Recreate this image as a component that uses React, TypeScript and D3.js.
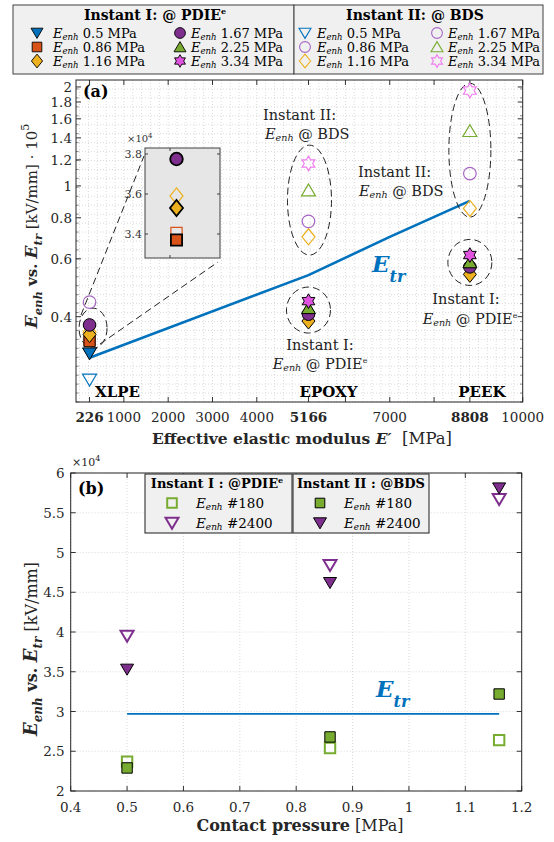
import React from 'react';
import * as d3 from 'd3';

// ---------------- panel (a): E_enh vs. E_tr over effective modulus ----------------
const modulus = [226, 5166, 8808];
const materialNames = ['XLPE', 'EPOXY', 'PEEK'];
const pressureLabels = ['0.5', '0.86', '1.16', '1.67', '2.25', '3.34'];

// Instant I @ PDIE^e (filled markers), x10^5 kV/mm, [XLPE, EPOXY, PEEK]
const inst1_p050 = [0.309, null, null];
const inst1_p086 = [0.337, null, null];
const inst1_p116 = [0.353, 0.388, 0.538];
const inst1_p167 = [0.3775, 0.407, 0.567];
const inst1_p225 = [null, 0.425, 0.586];
const inst1_p334 = [null, 0.446, 0.616];

// Instant II @ BDS (open markers)
const inst2_p050 = [0.257, null, null];
const inst2_p086 = [0.3405, null, null];
const inst2_p116 = [0.359, 0.70, 0.854];
const inst2_p167 = [0.443, 0.78, 1.09];
const inst2_p225 = [null, 0.97, 1.47];
const inst2_p334 = [null, 1.17, 1.95];

// E_tr curve
const etrModulus = [226, 5166, 7000, 8808];
const etrValues = [0.30, 0.535, 0.70, 0.90];

const xTicksA = [226, 1000, 2000, 3000, 4000, 5166, 6000, 7000, 8000, 8808, 10000];
const xTickLabelsA = ['226', '1000', '2000', '3000', '4000', '5166', '', '7000', '', '8808', '10000'];
const boldXTicks = [226, 5166, 8808];
const yTicksA = [0.4, 0.6, 0.8, 1, 1.2, 1.4, 1.6, 1.8, 2];
const insetTicks = [3.4, 3.6, 3.8];

// ---------------- panel (b): E_enh vs. contact pressure ----------------
const pressureB = [0.5, 0.86, 1.16];
const inst1_n180 = [2.37, 2.54, 2.64];
const inst1_n2400 = [3.95, 4.84, 5.67];
const inst2_n180 = [2.29, 2.68, 3.22];
const inst2_n2400 = [3.53, 4.62, 5.81];
const etrPressure = [0.5, 1.16];
const etrB = [2.97, 2.97];
const xTicksB = [0.4, 0.5, 0.6, 0.7, 0.8, 0.9, 1, 1.1, 1.2];
const yTicksB = [2, 2.5, 3, 3.5, 4, 4.5, 5, 5.5, 6];

const inst1 = [inst1_p050, inst1_p086, inst1_p116, inst1_p167, inst1_p225, inst1_p334];
const inst2 = [inst2_p050, inst2_p086, inst2_p116, inst2_p167, inst2_p225, inst2_p334];
const shapes = ['v', 's', 'd', 'o', '^', 'h'];
const fillColors = ['#0072BD', '#D95319', '#EDB120', '#7E2F8E', '#77AC30', '#E052E0'];
const openColors = ['#0072BD', '#D95319', '#EDB120', '#A766C4', '#77AC30', '#F07CF0'];
// the BDS legend shows a circle for 0.86 MPa
const legend2Shapes = ['v', 'o', 'd', 'o', '^', 'h'];
const legend2Colors = ['#0072BD', '#A766C4', '#EDB120', '#A766C4', '#77AC30', '#F07CF0'];

const FONT = "'DejaVu Serif', serif";
const BLUE = '#0072BD';

function markerPath(shape: string, r: number): string {
  if (shape === 'v') return `M${-r},${-0.8 * r}L${r},${-0.8 * r}L0,${0.9 * r}Z`;
  if (shape === '^') return `M${-r},${0.8 * r}L${r},${0.8 * r}L0,${-0.9 * r}Z`;
  if (shape === 's') { const a = 0.8 * r; return `M${-a},${-a}H${a}V${a}H${-a}Z`; }
  if (shape === 'd') return `M0,${-1.15 * r}L${0.93 * r},0L0,${1.15 * r}L${-0.93 * r},0Z`;
  if (shape === 'o') { const c = 0.9 * r; return `M${c},0A${c},${c} 0 1,1 ${-c},0A${c},${c} 0 1,1 ${c},0Z`; }
  // hexagram
  const R = 1.05 * r, ri = R / Math.sqrt(3);
  const pts = d3.range(12).map(i => {
    const a = -Math.PI / 2 + (i * Math.PI) / 6;
    const rad = i % 2 === 0 ? R : ri;
    return [rad * Math.cos(a), rad * Math.sin(a)];
  });
  return 'M' + pts.map(p => p.join(',')).join('L') + 'Z';
}

const Marker = ({ x, y, shape, r = 7, fill = 'none', stroke = '#000', sw = 1 }: any) => (
  <path d={markerPath(shape, r)} transform={`translate(${x},${y})`} fill={fill} stroke={stroke} strokeWidth={sw} />
);

const Enh = ({ size }: { size: number }) => (
  <>
    <tspan fontStyle="italic">E</tspan>
    <tspan fontStyle="italic" fontSize={size * 0.66} dy={size * 0.16}>enh</tspan>
    <tspan dy={-size * 0.16}>{'\u00a0'}</tspan>
  </>
);

export default function App() {
  // panel (a) scales
  const xA = d3.scaleLinear().domain([-80, 10000]).range([76, 522.7]);
  const yA = d3.scaleLog().domain([0.22, 2.1]).range([402, 80]);
  const [aL, aR] = xA.range();
  const [aB, aT] = yA.range();

  // inset
  const xI = d3.scaleLinear().domain([100, 400]).range([145, 220]);
  const yI = d3.scaleLinear().domain([3.28, 3.83]).range([258, 148]);

  // panel (b) scales
  const xB = d3.scaleLinear().domain([0.4, 1.2]).range([70.7, 521.7]);
  const yB = d3.scaleLinear().domain([2, 6]).range([791, 473]);
  const [bL, bR] = xB.range();
  const [bB, bT] = yB.range();

  const etrLine = d3.line<number>().x((_, i) => xA(etrModulus[i])).y(d => yA(d))(etrValues) || '';
  const etrLineB = d3.line<number>().x((_, i) => xB(etrPressure[i])).y(d => yB(d))(etrB) || '';

  // dense dotted minor grid in (a)
  const minorX = d3.range(0, 10001, 200);
  const lnLo = Math.log(0.22), lnHi = Math.log(2.1);
  const minorY = d3.range(lnLo, lnHi, (lnHi - lnLo) / 36).map(v => Math.exp(v));

  const grid = { stroke: '#d2d2d2', strokeWidth: 0.8, strokeDasharray: '1 2' };

  const ellipses = [
    { m: 226, v: 0.369, dx: 3.5, rx: 14, ry: 20 },
    { m: 5166, v: 0.419, dx: 0, rx: 22, ry: 23 },
    { m: 5166, v: 0.905, dx: 1, rx: 22, ry: 55 },
    { m: 8808, v: 1.284, dx: 0, rx: 21, ry: 67 },
    { m: 8808, v: 0.585, dx: 0, rx: 22, ry: 23 },
  ];

  const drawSeries = (data: (number | null)[][], filled: boolean, sx: any, sy: any, xs: number[]) =>
    data.map((series, si) =>
      series.map((v, mi) =>
        v == null ? null : (
          <Marker key={`${si}-${mi}`} x={sx(xs[mi])} y={sy(v)} shape={shapes[si]} r={7}
            fill={filled ? fillColors[si] : 'none'}
            stroke={filled ? '#000' : openColors[si]}
            sw={filled ? 1 : 1.2} />
        )
      )
    );

  return (
    <svg width={554} height={842} style={{ position: 'absolute', left: 0, top: 0, background: '#fff' }}
      fontFamily={FONT}>
      <defs>
        <clipPath id="clipA"><rect x={aL} y={aT} width={aR - aL} height={aB - aT} /></clipPath>
        <clipPath id="clipI"><rect x={145} y={148} width={75} height={110} /></clipPath>
      </defs>

      {/* ===== top legend (a) ===== */}
      <rect x={13} y={5} width={281} height={69} fill="#f0f0f0" stroke="#404040" strokeWidth={1} />
      <rect x={294} y={5} width={249} height={69} fill="#f0f0f0" stroke="#404040" strokeWidth={1} />
      <text x={155} y={20} textAnchor="middle" fontWeight="bold" fontSize={14}>
        Instant I: @ PDIE<tspan fontSize={8} dy={-6}>e</tspan>
      </text>
      <text x={415} y={20} textAnchor="middle" fontWeight="bold" fontSize={14}>Instant II: @ BDS</text>
      {pressureLabels.map((p, i) => {
        const col = Math.floor(i / 3), row = i % 3;
        const cy = 33 + row * 14;
        const m1 = col === 0 ? 37 : 180, t1 = col === 0 ? 53 : 191;
        const m2 = col === 0 ? 305 : 437, t2 = col === 0 ? 317 : 448;
        return (
          <g key={p}>
            <Marker x={m1} y={cy} shape={shapes[i]} r={6} fill={fillColors[i]} stroke="#000" sw={0.9} />
            <text x={t1} y={cy + 4.5} fontSize={13}><Enh size={13} />{p} MPa</text>
            <Marker x={m2} y={cy} shape={legend2Shapes[i]} r={6} fill="none" stroke={legend2Colors[i]} sw={1.1} />
            <text x={t2} y={cy + 4.5} fontSize={13}><Enh size={13} />{p} MPa</text>
          </g>
        );
      })}

      {/* ===== panel (a) ===== */}
      <g>
        {minorX.filter(v => xA(v) > aL && xA(v) < aR).map(v => (
          <line key={'mx' + v} x1={xA(v)} x2={xA(v)} y1={aT} y2={aB} {...grid} />
        ))}
        {minorY.map((v, i) => (
          <line key={'my' + i} x1={aL} x2={aR} y1={yA(v)} y2={yA(v)} {...grid} />
        ))}
        {xTicksA.map(t => (
          <g key={'xt' + t}>
            <line x1={xA(t)} x2={xA(t)} y1={aB} y2={aB - 5} stroke="#333" />
            <line x1={xA(t)} x2={xA(t)} y1={aT} y2={aT + 5} stroke="#333" />
          </g>
        ))}
        {yTicksA.map(t => (
          <g key={'yt' + t}>
            <line x1={aL} x2={aL + 5} y1={yA(t)} y2={yA(t)} stroke="#333" />
            <line x1={aR} x2={aR - 5} y1={yA(t)} y2={yA(t)} stroke="#333" />
            <text x={aL - 4} y={yA(t) + 5} textAnchor="end" fontSize={13.5} fill="#262626">{String(t)}</text>
          </g>
        ))}
        {minorY.map((v, i) => (
          <g key={'mt' + i}>
            <line x1={aL} x2={aL + 2.5} y1={yA(v)} y2={yA(v)} stroke="#555" strokeWidth={0.7} />
            <line x1={aR} x2={aR - 2.5} y1={yA(v)} y2={yA(v)} stroke="#555" strokeWidth={0.7} />
          </g>
        ))}
        {xTicksA.map((t, i) => (
          <text key={'xl' + t} x={xA(t)} y={421.5} textAnchor="middle" fontSize={13.5} fill="#262626"
            fontWeight={boldXTicks.includes(t) ? 'bold' : 'normal'}>{xTickLabelsA[i]}</text>
        ))}
        <rect x={aL} y={aT} width={aR - aL} height={aB - aT} fill="none" stroke="#262626" strokeWidth={1} />

        <text x={83} y={97} fontWeight="bold" fontSize={16}>(a)</text>

        {/* material labels */}
        {materialNames.map((n, i) => (
          <text key={n} x={xA(modulus[i]) + [28, 20, 12][i]} y={397} textAnchor="middle"
            fontWeight="bold" fontSize={15}>{n}</text>
        ))}

        {/* E_tr */}
        <path d={etrLine} fill="none" stroke={BLUE} strokeWidth={2.6} />
        <text x={372} y={272} fill={BLUE} fontWeight="bold" fontStyle="italic" fontSize={23}>
          E<tspan fontSize={16} dy={10}>tr</tspan>
        </text>

        {/* ellipses */}
        {ellipses.map((e, i) => (
          <ellipse key={'el' + i} cx={xA(e.m) + e.dx} cy={yA(e.v)} rx={e.rx} ry={e.ry}
            fill="none" stroke="#222" strokeWidth={1} strokeDasharray="7 4" />
        ))}

        <g clipPath="url(#clipA)">
          {drawSeries(inst2, false, xA, yA, modulus)}
          {drawSeries(inst1, true, xA, yA, modulus)}
        </g>

        {/* annotations */}
        <g fontSize={14.5} fill="#222">
          <text x={263} y={120}>Instant II:</text>
          <text x={265} y={139}><Enh size={14.5} />@ BDS</text>
          <text x={358} y={177}>Instant II:</text>
          <text x={359} y={196}><Enh size={14.5} />@ BDS</text>
          <text x={320} y={350} textAnchor="middle">Instant I:</text>
          <text x={320} y={369} textAnchor="middle"><Enh size={14.5} />@ PDIE<tspan fontSize={8} dy={-6}>e</tspan></text>
          <text x={466} y={304} textAnchor="middle">Instant I:</text>
          <text x={470} y={324} textAnchor="middle"><Enh size={14.5} />@ PDIE<tspan fontSize={8} dy={-6}>e</tspan></text>
        </g>

        {/* zoom connectors */}
        <line x1={81} y1={315} x2={144} y2={156} stroke="#222" strokeDasharray="7 4" />
        <line x1={100} y1={344} x2={218} y2={262} stroke="#222" strokeDasharray="7 4" />

        {/* inset */}
        <rect x={145} y={148} width={75} height={110} fill="#e6e6e6" stroke="#404040" strokeWidth={1} />
        {insetTicks.map(t => (
          <g key={'it' + t}>
            <line x1={145} x2={148} y1={yI(t)} y2={yI(t)} stroke="#404040" />
            <line x1={220} x2={217} y1={yI(t)} y2={yI(t)} stroke="#404040" />
            <text x={142} y={yI(t) + 4} textAnchor="end" fontSize={11} fill="#333">{t.toFixed(1)}</text>
          </g>
        ))}
        <line x1={xI(200)} x2={xI(200)} y1={258} y2={255} stroke="#404040" />
        <line x1={xI(200)} x2={xI(200)} y1={148} y2={151} stroke="#404040" />
        <text x={127} y={142} fontSize={10} fill="#333">×10<tspan fontSize={7} dy={-4}>4</tspan></text>
        <g clipPath="url(#clipI)">
          {inst2.map((s, si) => s[0] == null ? null : (
            <Marker key={'i2' + si} x={xI(modulus[0])} y={yI(s[0] * 10)} shape={shapes[si]} r={7}
              fill="none" stroke={openColors[si]} sw={1.2} />
          ))}
          {inst1.map((s, si) => s[0] == null ? null : (
            <Marker key={'i1' + si} x={xI(modulus[0])} y={yI(s[0] * 10)} shape={shapes[si]} r={7}
              fill={fillColors[si]} stroke="#000" sw={1.8} />
          ))}
        </g>

        {/* axis labels */}
        <text x={302} y={444} textAnchor="middle" fontSize={15.5} fill="#262626">
          <tspan fontWeight="bold">Effective elastic modulus </tspan>
          <tspan fontWeight="bold" fontStyle="italic">E′</tspan>
          <tspan fontSize={16.5}>{'\u00a0\u00a0'}[MPa]</tspan>
        </text>
        <text transform="translate(37,226) rotate(-90)" textAnchor="middle" fontSize={15} fill="#262626">
          <tspan fontWeight="bold" fontStyle="italic" fontSize={17}>E</tspan>
          <tspan fontWeight="bold" fontStyle="italic" fontSize={11.5} dy={5}>enh</tspan>
          <tspan fontWeight="bold" dy={-5}>{'\u00a0'}vs.{'\u00a0'}</tspan>
          <tspan fontWeight="bold" fontStyle="italic" fontSize={17}>E</tspan>
          <tspan fontWeight="bold" fontStyle="italic" fontSize={11.5} dy={5}>tr</tspan>
          <tspan dy={-5}>{'\u00a0'}[kV/mm] · 10</tspan>
          <tspan fontSize={11} dy={-8}>5</tspan>
        </text>
      </g>

      {/* ===== panel (b) ===== */}
      <g>
        {xTicksB.map(t => (
          <g key={'bx' + t}>
            <line x1={xB(t)} x2={xB(t)} y1={bT} y2={bB} {...grid} />
            <line x1={xB(t)} x2={xB(t)} y1={bB} y2={bB - 5} stroke="#333" />
            <line x1={xB(t)} x2={xB(t)} y1={bT} y2={bT + 5} stroke="#333" />
            <text x={xB(t)} y={811.5} textAnchor="middle" fontSize={13.5} fill="#262626">{String(t)}</text>
          </g>
        ))}
        {yTicksB.map(t => (
          <g key={'by' + t}>
            <line x1={bL} x2={bR} y1={yB(t)} y2={yB(t)} {...grid} />
            <line x1={bL} x2={bL + 5} y1={yB(t)} y2={yB(t)} stroke="#333" />
            <line x1={bR} x2={bR - 5} y1={yB(t)} y2={yB(t)} stroke="#333" />
            <text x={bL - 6} y={yB(t) + 5} textAnchor="end" fontSize={13.5} fill="#262626">{String(t)}</text>
          </g>
        ))}
        <rect x={bL} y={bT} width={bR - bL} height={bB - bT} fill="none" stroke="#262626" strokeWidth={1} />
        <text x={72} y={466} fontSize={11} fill="#262626">×10<tspan fontSize={8} dy={-5}>4</tspan></text>
        <text x={78} y={494} fontWeight="bold" fontSize={16}>(b)</text>

        <path d={etrLineB} fill="none" stroke={BLUE} strokeWidth={1.6} />
        <text x={376} y={697} fill={BLUE} fontWeight="bold" fontStyle="italic" fontSize={23}>
          E<tspan fontSize={16} dy={10}>tr</tspan>
        </text>

        {pressureB.map((p, i) => (
          <g key={'pb' + p}>
            <Marker x={xB(p)} y={yB(inst1_n2400[i])} shape="v" r={6.5} stroke="#7E2F8E" sw={2} />
            <Marker x={xB(p)} y={yB(inst2_n2400[i])} shape="v" r={6.5} fill="#7E2F8E" stroke="#000" sw={1} />
            <Marker x={xB(p)} y={yB(inst1_n180[i])} shape="s" r={6.5} stroke="#77AC30" sw={2} />
            <Marker x={xB(p)} y={yB(inst2_n180[i])} shape="s" r={6.5} fill="#77AC30" stroke="#000" sw={1} />
          </g>
        ))}

        {/* legend (b) */}
        <rect x={145} y={474} width={147} height={59} fill="#f0f0f0" stroke="#404040" strokeWidth={1.2} />
        <rect x={293} y={474} width={136} height={59} fill="#f0f0f0" stroke="#404040" strokeWidth={1.2} />
        <text x={217} y={488} textAnchor="middle" fontWeight="bold" fontSize={13}>
          Instant I : @PDIE<tspan fontSize={8} dy={-5}>e</tspan>
        </text>
        <text x={361} y={488} textAnchor="middle" fontWeight="bold" fontSize={13}>Instant II : @BDS</text>
        <Marker x={172} y={503} shape="s" r={6} stroke="#77AC30" sw={2} />
        <Marker x={172} y={523} shape="v" r={6.5} stroke="#7E2F8E" sw={2} />
        <Marker x={320} y={503} shape="s" r={6} fill="#77AC30" stroke="#000" sw={1} />
        <Marker x={320} y={523} shape="v" r={6.5} fill="#7E2F8E" stroke="#000" sw={1} />
        <g fontSize={13.5}>
          <text x={196} y={508}><Enh size={13.5} />#180</text>
          <text x={196} y={528}><Enh size={13.5} />#2400</text>
          <text x={344} y={508}><Enh size={13.5} />#180</text>
          <text x={344} y={528}><Enh size={13.5} />#2400</text>
        </g>

        <text x={300} y={831} textAnchor="middle" fontSize={16} fill="#262626">
          <tspan fontWeight="bold">Contact pressure</tspan>
          <tspan>{'\u00a0'}[MPa]</tspan>
        </text>
        <text transform="translate(37,649) rotate(-90)" textAnchor="middle" fontSize={16} fill="#262626">
          <tspan fontWeight="bold" fontStyle="italic" fontSize={18}>E</tspan>
          <tspan fontWeight="bold" fontStyle="italic" fontSize={12} dy={5}>enh</tspan>
          <tspan fontWeight="bold" dy={-5}>{'\u00a0'}vs.{'\u00a0'}</tspan>
          <tspan fontWeight="bold" fontStyle="italic" fontSize={18}>E</tspan>
          <tspan fontWeight="bold" fontStyle="italic" fontSize={12} dy={5}>tr</tspan>
          <tspan dy={-5}>{'\u00a0'}[kV/mm]</tspan>
        </text>
      </g>
    </svg>
  );
}
